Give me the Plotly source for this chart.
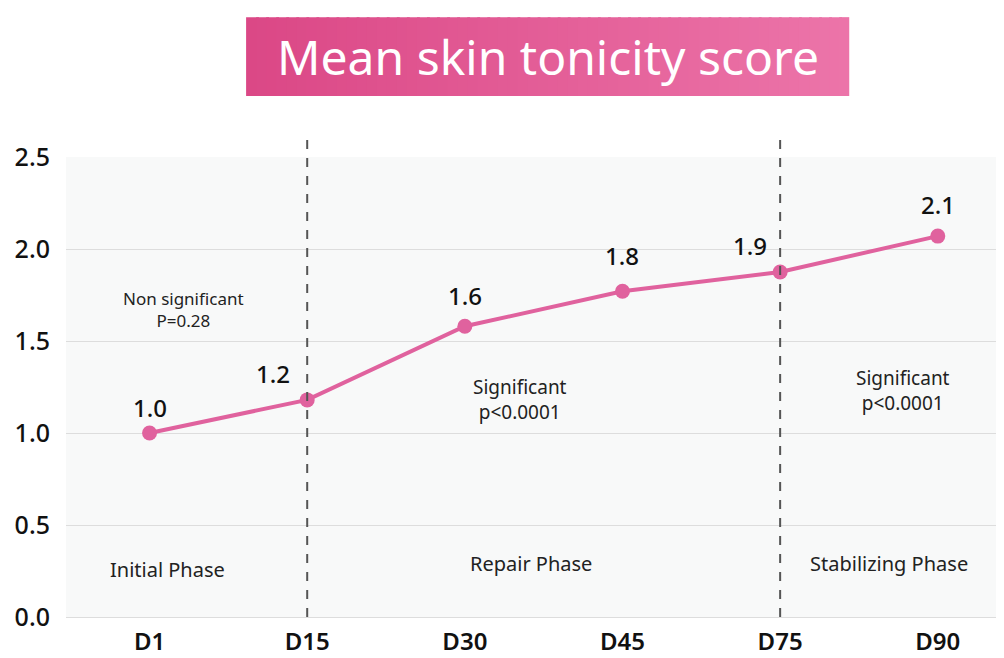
import plotly.graph_objects as go

categories = ["D1", "D15", "D30", "D45", "D75", "D90"]
scores = [1.0, 1.18, 1.58, 1.77, 1.875, 2.07]
score_labels = ["1.0", "1.2", "1.6", "1.8", "1.9", "2.1"]
y_ticks = [0.0, 0.5, 1.0, 1.5, 2.0, 2.5]
y_tick_labels = ["0.0", "0.5", "1.0", "1.5", "2.0", "2.5"]
phase_bounds = ["D15", "D75"]
phase_names = ["Initial Phase", "Repair Phase", "Stabilizing Phase"]
stat_texts = ["Non significant<br>P=0.28", "Significant<br>p<0.0001", "Significant<br>p<0.0001"]
title_text = "Mean skin tonicity score"

FONT = "Noto Sans"
PINK = "#e0629e"

fig = go.Figure()
fig.add_trace(go.Scatter(
    x=categories, y=scores, mode="lines+markers",
    line=dict(color=PINK, width=4),
    marker=dict(color=PINK, size=15),
    hoverinfo="skip", showlegend=False,
))

shapes = []
# dashed phase boundaries
for b in phase_bounds:
    shapes.append(dict(type="line", xref="x", yref="paper", x0=b, x1=b, y0=0, y1=1.048,
                       line=dict(color="#555555", width=2, dash="dash"), layer="above"))

# gradient title box
n = 60
bx0, bx1 = 0.192, 0.835
by0, by1 = 1.1326, 1.304
c0 = (0xDB, 0x48, 0x86)
c1 = (0xEC, 0x74, 0xA9)
for i in range(n):
    t = i / (n - 1)
    col = "rgb(%d,%d,%d)" % tuple(round(a + (b - a) * t) for a, b in zip(c0, c1))
    xa = bx0 + (bx1 - bx0) * i / n
    xb = bx0 + (bx1 - bx0) * (i + 1) / n + 0.003
    shapes.append(dict(type="rect", xref="paper", yref="paper", x0=xa, x1=min(xb, bx1),
                       y0=by0, y1=by1, fillcolor=col, line=dict(width=0), layer="above"))

annotations = []
annotations.append(dict(x=(bx0 + bx1) / 2, y=(by0 + by1) / 2, xref="paper", yref="paper",
                        xanchor="center", yanchor="middle",
                        text=title_text, showarrow=False,
                        font=dict(family=FONT, size=48, color="white")))

# value labels
label_offsets = [(0, 26), (-34, 26), (0, 31), (0, 36), (-30, 27), (0, 32)]
for c, v, lab, (dx, dy) in zip(categories, scores, score_labels, label_offsets):
    annotations.append(dict(x=c, y=v, text=lab, showarrow=False, xshift=dx, yshift=dy,
                            font=dict(family=FONT, size=24, color="#111111", weight=500)))

# phase & stats text
phase_x = [0.115, 2.42, 4.69]
phase_y = [0.26, 0.29, 0.29]
for x, y, t in zip(phase_x, phase_y, phase_names):
    annotations.append(dict(x=x, y=y, xref="x", yref="y", text=t, showarrow=False,
                            font=dict(family=FONT, size=20, color="#222222")))
stat_x = [0.217, 2.35, 4.78]
stat_y = [1.67, 1.18, 1.23]
stat_sizes = [17, 19, 19]
for x, y, t, s in zip(stat_x, stat_y, stat_texts, stat_sizes):
    annotations.append(dict(x=x, y=y, xref="x", yref="y", text=t, showarrow=False,
                            font=dict(family=FONT, size=s, color="#222222")))

# page body has an 8px margin; compensate so plot area lands at the reference pixels
fig.update_layout(
    width=996, height=650,
    margin=dict(l=58, r=0, t=149, b=41),
    paper_bgcolor="white", plot_bgcolor="#f8f9f9",
    shapes=shapes, annotations=annotations,
    font=dict(family=FONT, color="#111111"),
    xaxis=dict(type="category", range=[-0.53, 5.42], showgrid=False, zeroline=False,
               showline=False, ticks="", automargin=False,
               tickfont=dict(family=FONT, size=24, color="#111111", weight=600),
               ticklabelstandoff=8),
    yaxis=dict(range=[0, 2.5], tickvals=y_ticks, ticktext=y_tick_labels,
               showgrid=True, gridcolor="#dddddd", gridwidth=1,
               zeroline=True, zerolinecolor="#dddddd", zerolinewidth=1,
               showline=False, ticks="", automargin=False,
               tickfont=dict(family=FONT, size=25, color="#111111", weight=500),
               ticklabelstandoff=15),
)

fig.write_html("out.html")
